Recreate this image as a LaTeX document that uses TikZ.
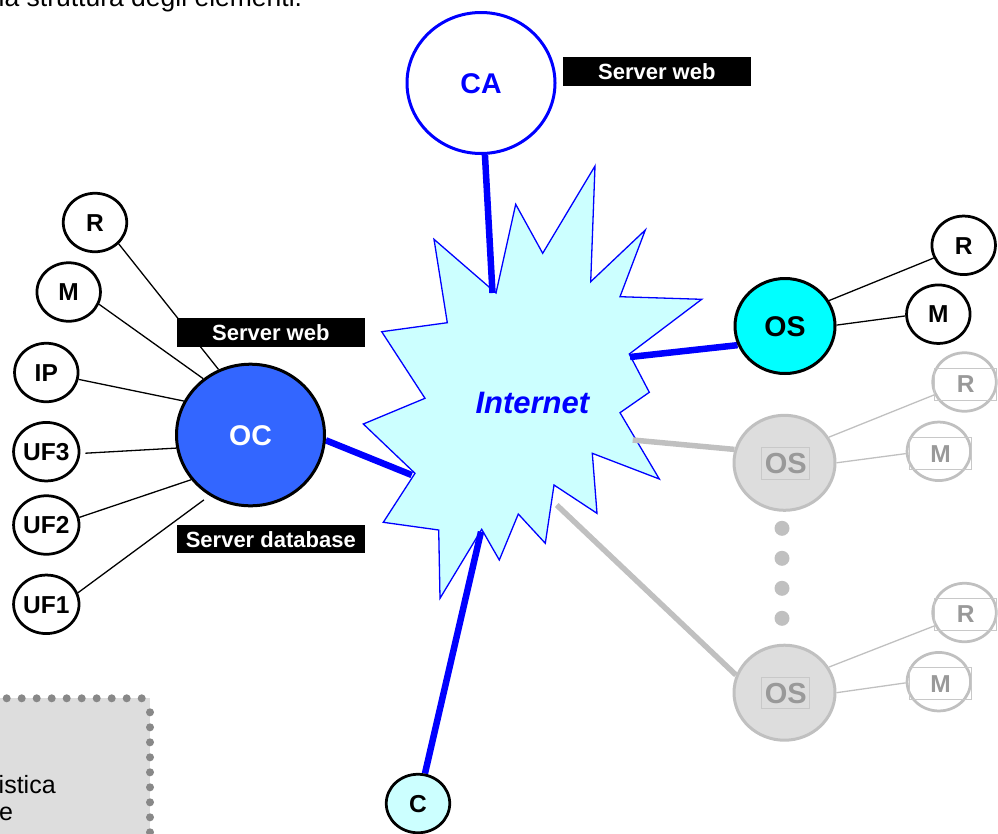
\documentclass[tikz,border=0pt]{standalone}
\usepackage{fontspec}
\setmainfont{Liberation Sans}
\usetikzlibrary{shapes.geometric,backgrounds}
\definecolor{ocblue}{HTML}{3366FF}
\definecolor{lcyan}{HTML}{CCFFFF}
\definecolor{oscyan}{HTML}{00FFFF}
\definecolor{pblue}{HTML}{0000FF}
\definecolor{gfill}{HTML}{DDDDDD}
\definecolor{gline}{HTML}{C0C0C0}
\definecolor{gtext}{HTML}{999999}
\definecolor{gbox}{HTML}{C8C8C8}
\definecolor{dotc}{HTML}{888888}
\newcommand{\myfs}[1]{\fontsize{#1}{#1}\selectfont}
\begin{document}
\begin{tikzpicture}[x=1pt,y=-1pt,
  big/.style={ellipse, draw=black, line width=3pt, minimum width=148pt, minimum height=141pt, inner sep=0pt,
    font=\myfs{28.5}\bfseries, text height=20.5pt, text depth=0pt},
  small/.style={ellipse, draw=black, line width=2.75pt, fill=white, minimum width=63.5pt, minimum height=58.5pt,
    inner sep=0pt, font=\myfs{24.5}\bfseries, text height=17.5pt, text depth=0pt},
  gsmall/.style={small, draw=gline},
  gtbox/.style={draw=gbox, line width=1pt, minimum width=62pt, minimum height=31.7pt, inner sep=0pt,
    text=gtext, font=\myfs{24.5}\bfseries, text height=17.5pt, text depth=0pt},
  gosbox/.style={draw=gbox, line width=1pt, minimum width=48.3pt, minimum height=31.7pt, inner sep=0pt,
    text=gtext, font=\myfs{29}\bfseries, text height=20.5pt, text depth=0pt},
  blackbox/.style={fill=black, text=white, minimum width=188.3pt, minimum height=28.4pt, inner sep=0pt,
    font=\myfs{22}\bfseries, text height=16pt, text depth=0pt},
  bluelink/.style={draw=pblue, line width=6.5pt},
  greylink/.style={draw=gline, line width=5.5pt},
  thinlink/.style={draw=black, line width=1.3pt},
  gthin/.style={draw=gline, line width=1.3pt},
  bodytext/.style={anchor=base west, inner sep=0pt, font=\myfs{25}}
]
\useasboundingbox (0,0) rectangle (998,833);

% top text (cut by the frame, as in the reference)
\node[bodytext, font=\myfs{26.5}] (toptext) at (-1.5,6.5) {la struttura degli elementi.};

% bottom-left dotted box
\fill[gfill] (-5,698) rectangle (150,845);
\foreach \i in {0,...,9} \fill[dotc] (6.7+15*\i,698.3) circle (4pt);
\foreach \j in {0,...,8} \fill[dotc] (150,712.3+15*\j) circle (4pt);
\node[bodytext] (boxt1) at (-1.5,793.5) {istica};
\node[bodytext] (boxt2) at (-1,820) {e};

% star coordinates
\coordinate (sCA) at (492.5,293);
\coordinate (sOC) at (411.7,475);
\coordinate (sOS) at (630,357);
\coordinate (sC) at (481,531.7);
\coordinate (sG1) at (632.7,440);
\coordinate (sG2) at (556.7,505);

% nodes
\node[big, draw=pblue, fill=white, text=pblue] (CA) at (481,83) {CA};
\node[blackbox] (sw1) at (656.8,71.5) {Server web};

\node[big, fill=ocblue, text=white, minimum height=141.6pt] (OC) at (250.5,435) {OC};
\node[blackbox] (sw2) at (270.8,332.5) {Server web};
\node[blackbox] (sdb) at (270.8,539.2) {Server database};

\node[small] (Rl) at (95,222.5) {R};
\node[small] (Ml) at (68.7,292) {M};
\node[small] (IP) at (46.3,372.5) {IP};
\node[small] (UF3) at (46.3,451.7) {UF3};
\node[small] (UF2) at (46.3,525) {UF2};
\node[small] (UF1) at (46.3,604.3) {UF1};

\node[big, fill=oscyan, minimum width=100pt, minimum height=95pt] (OS) at (785,326) {OS};
\node[small] (Rr) at (963.7,245.3) {R};
\node[small] (Mr) at (938.3,314.2) {M};

\node[small, fill=lcyan] (C) at (418,803.5) {C};

\node[big, draw=gline, fill=gfill, minimum width=101pt, minimum height=95pt] (gOS1) at (784.5,462.8) {};
\node[gosbox] (gOS1t) at (785.8,463.2) {OS};
\node[gsmall] (gR1) at (964.5,382) {};
\node[gtbox] (gR1t) at (965.8,384.2) {R};
\node[gsmall] (gM1) at (938.8,451.3) {};
\node[gtbox] (gM1t) at (940.5,453.5) {M};

\node[big, draw=gline, fill=gfill, minimum width=101pt, minimum height=95pt] (gOS2) at (784.5,692.7) {};
\node[gosbox] (gOS2t) at (785.8,693) {OS};
\node[gsmall] (gR2) at (964.5,612.5) {};
\node[gtbox] (gR2t) at (965.8,614.2) {R};
\node[gsmall] (gM2) at (938.8,681.7) {};
\node[gtbox] (gM2t) at (940.5,683.3) {M};

\foreach \k in {0,...,3} \fill[gline] (782,528.3+30*\k) circle (7.5pt);

\begin{scope}[on background layer]
  % Internet cloud
  \filldraw[fill=lcyan, draw=pblue, line width=1.3pt]
    (434.0,239.3) -- (496,293) -- (515.7,204.3) -- (542.7,253.3) -- (595,166) -- (590.7,281.7)
    -- (645.3,230) -- (620,296.7) -- (701.7,299.3) -- (629.3,354) -- (649.3,392.3) -- (620,412.7)
    -- (659.3,479) -- (592.3,453.3) -- (597,513.3) -- (554,485) -- (545.3,543.3) -- (518.3,514)
    -- (499.3,560) -- (481.7,529.3) -- (440,598.3) -- (438.7,530) -- (383.3,522.3) -- (415,473.3)
    -- (363.3,424) -- (425,398.3) -- (381.7,331.7) -- (447.3,322.7) -- cycle;
  \node[text=pblue, font=\myfs{31}\bfseries\itshape, text height=22pt, text depth=0pt, inner sep=0pt]
    (inet) at (532.4,402) {Internet};

  % thick links
  \draw[bluelink] (CA) -- (sCA);
  \draw[bluelink] (OC.-4) -- (sOC);
  \draw[bluelink] (sOS) -- (OS.202);
  \draw[bluelink] (sC) -- (C);
  \draw[greylink] (sG1) -- (gOS1.165.5);
  \draw[greylink] (sG2) -- (gOS2.160);

  % thin links
  \draw[thinlink] (Rl.-42) -- (OC.116);
  \draw[thinlink] (Ml.-22.6) -- (OC.130.7);
  \draw[thinlink] (IP.-12.5) -- (OC.153.7);
  \draw[thinlink, shorten <=5pt] (UF3.-3) -- (OC.190);
  \draw[thinlink] (UF2.13.8) -- (OC.217.7);
  \draw[thinlink, shorten >=7pt] (UF1.20) -- (OC.236.7);
  \draw[thinlink] (OS.30.7) -- (Rr.203.2);
  \draw[thinlink] (OS.1) -- (Mr.183.3);
  \draw[gthin] (gOS1.30.5) -- (gR1.203.8);
  \draw[gthin] (gOS1.0) -- (gM1.184.7);
  \draw[gthin] (gOS2.30.4) -- (gR2.204.6);
  \draw[gthin] (gOS2.0) -- (gM2.182.8);
\end{scope}
\end{tikzpicture}
\end{document}
